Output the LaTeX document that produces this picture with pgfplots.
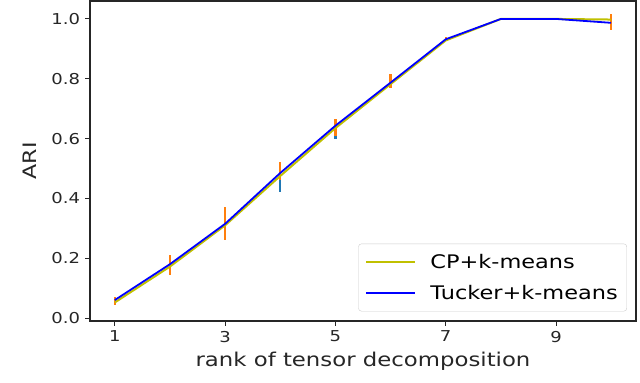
\documentclass[border=0pt]{standalone}
\usepackage{fontspec}
\setmainfont{DejaVu Sans}[FakeStretch=1.2]
\usepackage{pgfplots}
\pgfplotsset{compat=1.18}
\definecolor{cpY}{HTML}{C0C000}
\definecolor{tuB}{HTML}{0000FF}
\definecolor{cOr}{HTML}{FF7F0E}
\definecolor{cBl}{HTML}{1F77B4}
\definecolor{spine}{HTML}{262626}
\begin{document}
\begin{tikzpicture}
\path[use as bounding box] (0,0) rectangle (640bp,383bp);
\begin{axis}[
  at={(90bp,62bp)}, anchor=south west,
  scale only axis, width=546bp, height=320bp,
  xmin=0.55, xmax=10.45, ymin=-0.01, ymax=1.06,
  xtick={1,3,5,7,9}, ytick={0,0.2,0.4,0.6,0.8,1.0},
  axis line style={draw=spine, line width=1.2bp},
  tick align=outside, tick pos=left,
  major tick length=4.5bp,
  every tick/.style={draw=spine, line width=1bp},
  /pgf/number format/assume math mode=true,
  yticklabel style={/pgf/number format/fixed, /pgf/number format/fixed zerofill, /pgf/number format/precision=1, xshift=-2bp},
  ticklabel style={font=\fontsize{15bp}{18bp}\selectfont, text=spine},
  xticklabel style={yshift=-2bp},
  xlabel={rank of tensor decomposition},
  ylabel={ARI},
  label style={font=\fontsize{18.5bp}{22bp}\selectfont, text=spine},
  xlabel style={at={(axis description cs:0.5,-0.125)}, anchor=center, font=\fontsize{19bp}{22bp}\selectfont},
  ylabel style={at={(axis description cs:-0.11,0.5)}, anchor=center, rotate=0},
  legend style={at={(axis description cs:0.9835,0.03)}, anchor=south east,
    font=\fontsize{18.7bp}{22bp}\selectfont, draw=black!20, rounded corners=3bp,
    inner xsep=7bp, inner ysep=8bp, row sep=12bp,
    /tikz/every odd column/.append style={column sep=12bp}},
  legend cell align=left,
  legend image code/.code={\draw[#1, line width=2bp] (0bp,0bp) -- (49bp,0bp);},
  clip=false,
]
% error bars (Tucker, blue)
\addplot[draw=none, mark=none, forget plot,
  error bars/.cd, y dir=both, y explicit, error mark=none,
  error bar style={draw=cBl, line width=2.2bp}]
  coordinates {
  (1,0.0575) +- (0,0.0125)
  (2,0.1715) +- (0,0.0285)
  (3,0.315) +- (0,0.045)
  (4,0.465) +- (0,0.045)
  (5,0.63) +- (0,0.03)
  (6,0.7875) +- (0,0.0125)
  (7,0.9325) +- (0,0.0075)
  (8,1.0) +- (0,0)
  (9,1.0) +- (0,0)
  (10,0.9875) +- (0,0.0125)
  };
% error bars (CP, orange)
\addplot[draw=none, mark=none, forget plot,
  error bars/.cd, y dir=both, y explicit, error mark=none,
  error bar style={draw=cOr, line width=2.2bp}]
  coordinates {
  (1,0.0575) +- (0,0.0125)
  (2,0.1775) +- (0,0.0325)
  (3,0.315) +- (0,0.055)
  (4,0.49) +- (0,0.03)
  (5,0.6375) +- (0,0.0275)
  (6,0.7925) +- (0,0.0225)
  (7,0.9325) +- (0,0.0075)
  (8,1.0) +- (0,0)
  (9,1.0) +- (0,0)
  (10,0.99) +- (0,0.027)
  };
\addplot[cpY, line width=2bp, mark=none] coordinates {
  (1,0.052) (2,0.172) (3,0.31) (4,0.475) (5,0.635) (6,0.782) (7,0.928) (8,1.0) (9,1.0) (10,0.998)
};
\addlegendentry{CP+k-means}
\addplot[tuB, line width=1.8bp, mark=none] coordinates {
  (1,0.06) (2,0.18) (3,0.315) (4,0.485) (5,0.643) (6,0.787) (7,0.932) (8,1.0) (9,1.0) (10,0.987)
};
\addlegendentry{Tucker+k-means}
\end{axis}
\end{tikzpicture}
\end{document}
